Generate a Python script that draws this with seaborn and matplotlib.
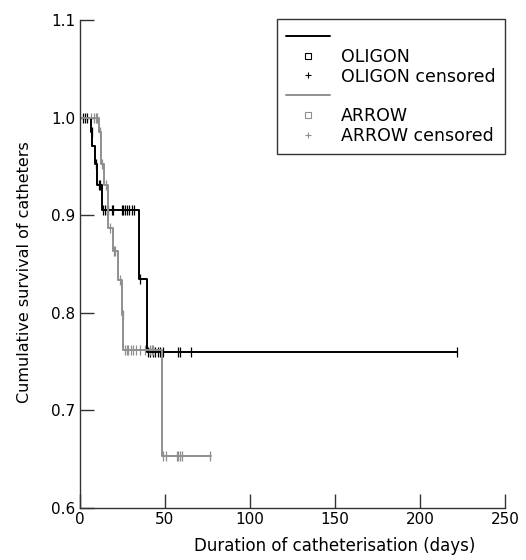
import numpy as np
import pandas as pd
import seaborn as sns
import matplotlib.pyplot as plt
from matplotlib.lines import Line2D

# Kaplan-Meier steps: (day of event, survival after it)
oligon_event_days = [6.3, 7.2, 8.6, 10.2, 13.2, 34.9, 39.2]
oligon_surv = [0.985, 0.971, 0.952, 0.931, 0.905, 0.835, 0.760]
oligon_end = 222
oligon_censored = [2.0, 3.0, 4.0, 6.8, 9.4, 11.0, 12.0,
                   13.7, 14.7, 15.7, 16.6, 18.6, 19.6, 24.5, 25.5, 26.5, 27.5,
                   29.0, 30.4, 31.8, 35.5,
                   40.2, 41.2, 42.7, 44.1, 46.1, 47.1, 49.0, 57.8, 58.8, 65.1, 222.0]

arrow_event_days = [11.0, 12.2, 14.1, 16.3, 19.2, 22.5, 24.6, 25.4, 48.0]
arrow_surv = [0.985, 0.952, 0.931, 0.887, 0.863, 0.834, 0.798, 0.762, 0.653]
arrow_end = 77
arrow_censored = [6.5, 8.0, 9.3, 10.2, 11.6, 13.0, 15.0, 17.5, 20.0, 20.6, 23.5, 25.0,
                  26.5, 27.5, 28.4, 29.8, 31.4, 32.9, 35.3, 38.2, 41.2, 42.2, 43.1,
                  49.0, 50.6, 56.9, 57.8, 58.8, 59.8, 76.5]

OLIGON_COLOR = "black"
ARROW_COLOR = "#8f8f8f"


def km_frame(event_days, surv, end):
	t = [0.0] + list(event_days) + [end]
	s = [1.0] + list(surv) + [surv[-1]]
	return pd.DataFrame({"day": t, "surv": s})


def surv_at(event_days, surv, days):
	# step function value at each censored time
	out = []
	for d in days:
		val = 1.0
		for ed, sv in zip(event_days, surv):
			if d >= ed:
				val = sv
		out.append(val)
	return pd.DataFrame({"day": days, "surv": out})


sns.set_style("ticks")
plt.rcParams['font.family'] = ['DejaVu Sans']
plt.rcParams['text.color'] = "black"
plt.rcParams['axes.labelcolor'] = "black"

fig = plt.figure(figsize=(5.26, 5.6), dpi=100)
ax = fig.add_axes([80 / 526, 1 - 508 / 560, 425 / 526, 488 / 560])

for days, surv, end, cens, col in [
	(oligon_event_days, oligon_surv, oligon_end, oligon_censored, OLIGON_COLOR),
	(arrow_event_days, arrow_surv, arrow_end, arrow_censored, ARROW_COLOR),
]:
	sns.lineplot(data=km_frame(days, surv, end), x="day", y="surv", ax=ax,
	             drawstyle="steps-post", estimator=None, sort=False,
	             color=col, linewidth=1.4)
	sns.scatterplot(data=surv_at(days, surv, cens), x="day", y="surv", ax=ax,
	                marker="|", s=50, color=col, linewidth=0.9)

ax.set_xlim(0, 250)
ax.set_ylim(0.6, 1.1)
ax.set_xticks([0, 50, 100, 150, 200, 250])
ax.set_yticks([0.6, 0.7, 0.8, 0.9, 1.0, 1.1])
ax.yaxis.set_major_formatter(plt.FormatStrFormatter("%.1f"))
ax.tick_params(direction="in", length=10, width=1, labelsize=11,
               colors="#333333", labelcolor="black")
ax.tick_params(axis="x", pad=3)

sns.despine(ax=ax)
for sp in ["left", "bottom"]:
	ax.spines[sp].set_color("#333333")
	ax.spines[sp].set_linewidth(1)

ax.set_xlabel("Duration of catheterisation (days)", fontsize=12)
ax.set_ylabel("Cumulative survival of catheters", fontsize=11.5)
ax.xaxis.set_label_coords(0.6, -0.06)
ax.yaxis.set_label_coords(-0.113, 0.484)

handles = [
	Line2D([], [], color=OLIGON_COLOR, lw=1.4),
	Line2D([], [], color=OLIGON_COLOR, lw=0, marker="s", markerfacecolor="white",
	       markeredgecolor=OLIGON_COLOR, markersize=5, markeredgewidth=0.8),
	Line2D([], [], color=OLIGON_COLOR, lw=0, marker="+", markersize=5, markeredgewidth=0.8),
	Line2D([], [], color=ARROW_COLOR, lw=1.4),
	Line2D([], [], color=ARROW_COLOR, lw=0, marker="s", markerfacecolor="white",
	       markeredgecolor=ARROW_COLOR, markersize=5, markeredgewidth=0.8),
	Line2D([], [], color=ARROW_COLOR, lw=0, marker="+", markersize=5, markeredgewidth=0.8),
]
labels = ["", "OLIGON", "OLIGON censored", "", "ARROW", "ARROW censored"]
leg = ax.legend(handles, labels, loc="upper right", bbox_to_anchor=(1.0, 1.003),
                borderaxespad=0, fancybox=False, frameon=True, fontsize=12.5,
                handlelength=2.5, handletextpad=0.63, labelspacing=0.1,
                borderpad=0.55)
leg.get_frame().set_edgecolor("black")
leg.get_frame().set_linewidth(1)

fig.savefig("out.png", dpi=100)
